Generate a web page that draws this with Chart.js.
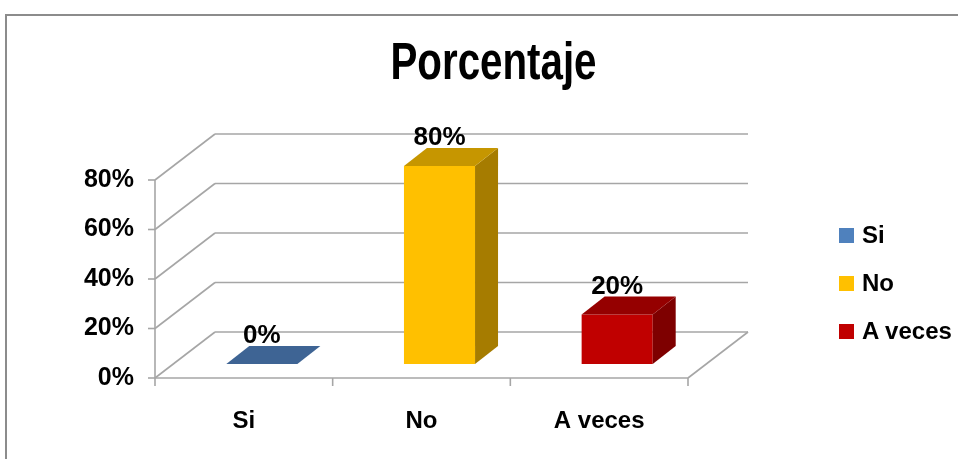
<!DOCTYPE html>
<html>
<head>
<meta charset="utf-8">
<script src="https://cdn.jsdelivr.net/npm/chart.js@4/dist/chart.umd.min.js"></script>
<style>
  html, body { margin: 0; padding: 0; background: #fff; overflow: hidden; }
  #wrap { position: relative; width: 958px; height: 459px; overflow: hidden; }
  #frame { position: absolute; left: 5px; top: 14px; width: 1200px; height: 800px;
           border-left: 2px solid #8c8c8c; border-top: 2px solid #8c8c8c; }
  #chartBox { position: absolute; left: 0; top: 0; width: 958px; height: 459px; }
  #title { position: absolute; left: 0; top: 37px; width: 987px; text-align: center;
           font: bold 51px 'Liberation Sans', Arial, sans-serif;
           line-height: 50px; color: #000;
           transform: scaleX(0.79); transform-origin: 493.5px 0; }
  #legend { position: absolute; left: 839px; top: 211px; margin: 0; padding: 0; list-style: none;
            font: bold 24px 'Liberation Sans', Arial, sans-serif; color: #000; }
  #legend li { height: 48px; display: flex; align-items: center; }
  #legend .box { width: 15px; height: 15px; margin-right: 8px; }
</style>
</head>
<body>
<div id="wrap">
  <div id="frame"></div>
  <div id="chartBox"><canvas id="chart"></canvas></div>
  <div id="title">Porcentaje</div>
  <ul id="legend"></ul>
</div>
<script>
const categories = ["Si", "No", "A veces"];
const percentages = [0, 80, 20];
const yTicks = [0, 20, 40, 60, 80];

const frontColors = ["#4f81bd", "#ffc000", "#c00000"];
const topColors = ["#3e6494", "#c69600", "#950000"];
const sideColors = ["#2f4b70", "#a67c00", "#7e0000"];
const gridColor = "#a6a6a6";

// offsets of the fake 3D: bars sit a little behind the front plane
const FRONT = { x: -18, y: 14 };   // front plane, seen from the bar plane
const WALL = { x: 60, y: -46 };    // back wall, seen from the front plane
const BAR = { x: 23, y: -18 };     // depth of one bar

const labelFont = "'Liberation Sans', Arial, sans-serif";

function line(ctx, x1, y1, x2, y2) {
  ctx.beginPath();
  ctx.moveTo(x1, y1);
  ctx.lineTo(x2, y2);
  ctx.stroke();
}

function poly(ctx, color, pts) {
  ctx.fillStyle = color;
  ctx.beginPath();
  ctx.moveTo(pts[0][0], pts[0][1]);
  for (let i = 1; i < pts.length; i++) ctx.lineTo(pts[i][0], pts[i][1]);
  ctx.closePath();
  ctx.fill();
}

const walls3d = {
  id: "walls3d",
  beforeDatasetsDraw(chart) {
    const { ctx, chartArea: a, scales } = chart;
    const xs = scales.x, ys = scales.y;
    const fl = a.left + FRONT.x;
    const fr = a.right + FRONT.x;
    const f0 = ys.getPixelForValue(0) + FRONT.y;
    const fTop = ys.getPixelForValue(yTicks[yTicks.length - 1]) + FRONT.y;

    ctx.save();
    ctx.strokeStyle = gridColor;
    ctx.lineWidth = 1.6;

    // side wall diagonals + back wall gridlines + tick marks
    yTicks.forEach((v) => {
      const py = ys.getPixelForValue(v) + FRONT.y;
      line(ctx, fl, py, fl + WALL.x, py + WALL.y);
      line(ctx, fl + WALL.x, py + WALL.y, fr + WALL.x, py + WALL.y);
      line(ctx, fl - 7, py, fl, py);
    });

    // floor front and right edge
    line(ctx, fl, f0, fr, f0);
    line(ctx, fr, f0, fr + WALL.x, f0 + WALL.y);

    // front value axis
    line(ctx, fl, f0, fl, fTop);

    // category separators under the floor
    for (let i = 0; i <= categories.length; i++) {
      const px = xs.getPixelForValue(i - 0.5) + FRONT.x;
      line(ctx, px, f0, px, f0 + 8);
    }
    ctx.restore();
  },
  afterDatasetsDraw(chart) {
    const { ctx } = chart;
    const meta = chart.getDatasetMeta(0);
    ctx.save();
    meta.data.forEach((bar, i) => {
      const { x, y, base, width } = bar.getProps(["x", "y", "base", "width"], true);
      const l = x - width / 2;
      const r = x + width / 2;
      if (base - y > 0.5) {
        poly(ctx, sideColors[i], [[r, y], [r + BAR.x, y + BAR.y], [r + BAR.x, base + BAR.y], [r, base]]);
      }
      poly(ctx, topColors[i], [[l, y], [r, y], [r + BAR.x, y + BAR.y], [l + BAR.x, y + BAR.y]]);

      ctx.fillStyle = "#000";
      ctx.font = "bold 26px " + labelFont;
      ctx.textAlign = "center";
      ctx.textBaseline = "middle";
      ctx.fillText(percentages[i] + "%", x, y - 28);
    });
    ctx.restore();
  },
};

Chart.defaults.color = "#000";

new Chart(document.getElementById("chart"), {
  type: "bar",
  data: {
    labels: categories,
    datasets: [
      {
        label: "Porcentaje",
        data: percentages,
        backgroundColor: frontColors,
        borderWidth: 0,
        categoryPercentage: 1,
        barPercentage: 0.4,
      },
    ],
  },
  options: {
    responsive: true,
    maintainAspectRatio: false,
    animation: false,
    layout: { padding: { top: 166, right: 252, bottom: 0, left: 0 } },
    plugins: {
      legend: { display: false },
      title: { display: false },
      tooltip: { enabled: false },
    },
    scales: {
      x: {
        grid: { display: false, drawTicks: false },
        border: { display: false },
        ticks: {
          padding: 43,
          labelOffset: FRONT.x,
          font: { family: labelFont, size: 24, weight: "bold" },
        },
        afterFit: (scale) => { scale.height = 95; },
      },
      y: {
        min: 0,
        max: 80,
        grid: { display: false, drawTicks: false },
        border: { display: false },
        ticks: {
          stepSize: 20,
          padding: 39,
          labelOffset: FRONT.y,
          font: { family: labelFont, size: 25, weight: "bold" },
          callback: (v) => v + "%",
        },
        afterFit: (scale) => { scale.width = 173; },
      },
    },
  },
  plugins: [walls3d],
});

// html legend, one item per category
const legend = document.getElementById("legend");
categories.forEach((c, i) => {
  const li = document.createElement("li");
  const box = document.createElement("span");
  box.className = "box";
  box.style.background = frontColors[i];
  li.appendChild(box);
  li.appendChild(document.createTextNode(c));
  legend.appendChild(li);
});
</script>
</body>
</html>
